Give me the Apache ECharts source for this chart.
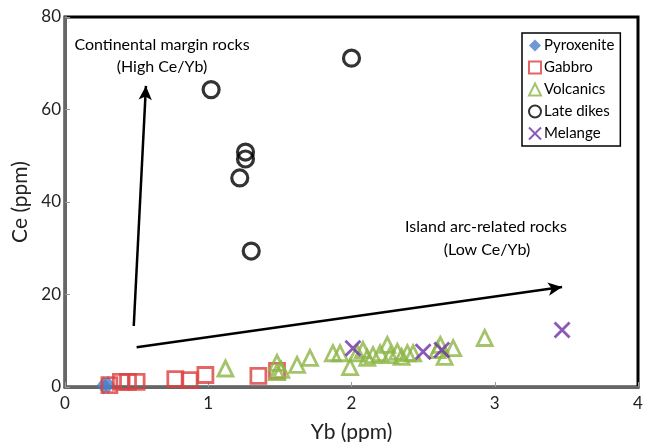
<!DOCTYPE html>
<html><head><meta charset="utf-8">
<script src="https://cdn.jsdelivr.net/npm/echarts@6/dist/echarts.min.js"></script>
<style>html,body{margin:0;padding:0;background:#fff}#c{width:645px;height:442px}</style>
</head><body><div id="c"></div>
<script>
const xTicks = [0, 1, 2, 3, 4];
const yTicks = [0, 20, 40, 60, 80];
const pyroxenite = [[0.27, 0.3], [0.3, 0.5]];
const gabbro = [[0.31, 0.4], [0.39, 1.1], [0.44, 1.1], [0.5, 1.1], [0.77, 1.7], [0.87, 1.5], [0.98, 2.6], [1.35, 2.4], [1.48, 3.5]];
const volcanics = [[1.12, 4.0], [1.48, 3.2], [1.48, 5.2], [1.51, 3.7], [1.62, 4.8], [1.71, 6.3], [1.87, 7.3], [1.92, 7.3], [1.99, 4.3], [2.04, 7.3], [2.08, 8.0], [2.11, 6.3], [2.15, 6.9], [2.2, 7.3], [2.25, 9.1], [2.27, 6.9], [2.32, 7.6], [2.35, 6.5], [2.39, 7.3], [2.43, 7.3], [2.6, 8.0], [2.62, 9.1], [2.65, 6.5], [2.71, 8.4], [2.93, 10.6]];
const lateDikes = [[1.02, 64.3], [1.22, 45.2], [1.26, 49.3], [1.26, 50.8], [1.30, 29.4], [2.0, 71.1]];
const melange = [[2.01, 8.4], [2.5, 7.6], [2.63, 8.0], [3.47, 12.3]];
const arrowHigh = [[0.48, 13.2], [0.565, 65.1]];
const arrowLow = [[0.5, 8.6], [3.47, 21.6]];

const FONT = 'Lato';
const chart = echarts.init(document.getElementById('c'), null, {renderer: 'canvas'});
const xPath = 'path://M0,0L10,10M10,0L0,10';
chart.setOption({
  animation: false,
  textStyle: {fontFamily: FONT},
  grid: {left: 65, top: 17, right: 7, bottom: 55, containLabel: false, outerBoundsMode: 'none',
         show: true, borderColor: '#000', borderWidth: 3, backgroundColor: '#fff'},
  xAxis: {
    type: 'value', min: xTicks[0], max: xTicks[xTicks.length - 1], interval: 1,
    name: 'Yb (ppm)', nameLocation: 'middle', nameGap: 35,
    nameTextStyle: {fontSize: 21, color: '#222', fontFamily: FONT},
    axisLine: {lineStyle: {color: '#666', width: 3}},
    axisTick: {inside: true, length: 5, lineStyle: {color: '#999'}},
    axisLabel: {fontSize: 17, color: '#222', margin: 8, fontFamily: FONT},
    splitLine: {show: false}
  },
  yAxis: {
    type: 'value', min: yTicks[0], max: yTicks[yTicks.length - 1], interval: 20,
    name: 'Ce (ppm)', nameLocation: 'middle', nameGap: 30, nameRotate: 90,
    nameTextStyle: {fontSize: 21, color: '#222', fontFamily: FONT},
    axisLine: {lineStyle: {color: '#666', width: 3}},
    axisTick: {inside: true, length: 5, lineStyle: {color: '#999'}},
    axisLabel: {fontSize: 17, color: '#222', margin: 4, fontFamily: FONT},
    splitLine: {show: false}
  },
  legend: {
    orient: 'vertical', left: 522, top: 33, padding: [5, 6, 5, 6], itemGap: 7,
    itemWidth: 12, itemHeight: 12,
    borderColor: '#000', borderWidth: 1.5, backgroundColor: '#fff',
    textStyle: {fontSize: 15, color: '#000', fontFamily: FONT, padding: [0, 0, 0, -2]},
    data: ['Pyroxenite', 'Gabbro', 'Volcanics', 'Late dikes', 'Melange']
  },
  series: [
    {name: 'Gabbro', type: 'scatter', data: gabbro, symbol: 'rect', symbolSize: 15,
     itemStyle: {color: 'rgba(0,0,0,0)', borderColor: '#dc4040', borderWidth: 2.8}, z: 3},
    {name: 'Pyroxenite', type: 'scatter', data: pyroxenite, symbol: 'diamond', symbolSize: [14, 18],
     itemStyle: {color: '#4a80c8'}, z: 2},
    {name: 'Volcanics', type: 'scatter', data: volcanics, symbol: 'triangle', symbolSize: 15,
     itemStyle: {color: 'rgba(0,0,0,0)', borderColor: '#8cb545', borderWidth: 2.8}, z: 4},
    {name: 'Late dikes', type: 'scatter', data: lateDikes, symbol: 'circle', symbolSize: 16,
     itemStyle: {color: 'rgba(0,0,0,0)', borderColor: '#000', borderWidth: 3.2}, z: 5},
    {name: 'Melange', type: 'scatter', data: melange, symbol: xPath, symbolSize: 15,
     itemStyle: {color: 'rgba(0,0,0,0)', borderColor: '#7030a8', borderWidth: 2.8}, z: 6},
    {type: 'line', data: [], silent: true,
     markLine: {silent: true, symbol: ['none', 'arrow'], symbolSize: [10, 14], label: {show: false},
       lineStyle: {color: '#000', width: 2.5, type: 'solid'},
       data: [
         [{coord: arrowHigh[0]}, {coord: arrowHigh[1]}],
         [{coord: arrowLow[0]}, {coord: arrowLow[1]}]
       ]}}
  ],
  graphic: [
    {type: 'text', position: [162, 45], style: {text: 'Continental margin rocks', font: '16px ' + FONT, fill: '#000', textAlign: 'center', textVerticalAlign: 'middle'}},
    {type: 'text', position: [162, 67], style: {text: '(High Ce/Yb)', font: '16px ' + FONT, fill: '#000', textAlign: 'center', textVerticalAlign: 'middle'}},
    {type: 'text', position: [486, 227], style: {text: 'Island arc-related rocks', font: '16px ' + FONT, fill: '#000', textAlign: 'center', textVerticalAlign: 'middle'}},
    {type: 'text', position: [487, 250], style: {text: '(Low Ce/Yb)', font: '16px ' + FONT, fill: '#000', textAlign: 'center', textVerticalAlign: 'middle'}}
  ]
});
</script>
</body></html>
